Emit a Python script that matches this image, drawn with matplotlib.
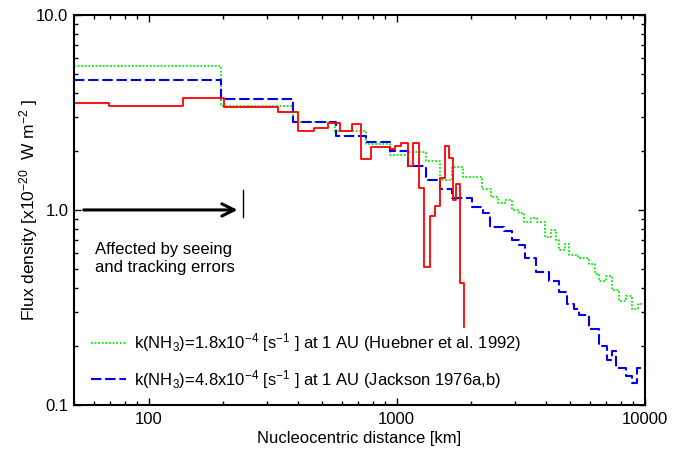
import matplotlib
matplotlib.use('Agg')
import matplotlib.pyplot as plt
from matplotlib.ticker import FixedLocator, FixedFormatter, LogLocator, NullFormatter

plt.rcParams['font.family'] = ['Liberation Sans', 'DejaVu Sans']
plt.rcParams['mathtext.fontset'] = 'custom'
plt.rcParams['mathtext.rm'] = 'Liberation Sans'
plt.rcParams['mathtext.it'] = 'Liberation Sans:italic'
plt.rcParams['mathtext.default'] = 'regular'

# step edges (km) and flux values
huebner_x = [50, 195, 381, 563, 751, 937, 1110, 1309, 1489, 1675, 1846, 2209, 2401,
             2551, 2741, 2915, 3099, 3266, 3475, 3695, 3967, 4182, 4380, 4515, 4750,
             4953, 5382, 5957, 6300, 6536, 6970, 7370, 7900, 8389, 8867, 9400, 10000]
huebner_y = [5.47, 3.43, 2.84, 2.53, 2.18, 1.91, 1.98, 1.79, 1.43, 1.66, 1.47, 1.28, 1.17,
             1.09, 1.12, 1.00, 0.96, 0.87, 0.91, 0.87, 0.73, 0.79, 0.70, 0.62, 0.67,
             0.59, 0.57, 0.53, 0.47, 0.43, 0.46, 0.39, 0.34, 0.36, 0.31, 0.33, 0.30]

jackson_x = [50, 195, 381, 567, 751, 937, 1110, 1309, 1489, 1675, 2014, 2222, 2385,
             2715, 2915, 3119, 3298, 3640, 4117, 4515, 4861, 5200, 5433, 5957, 6536,
             7035, 7400, 7645, 8389, 8867, 9300, 10000]
jackson_y = [4.64, 3.70, 2.84, 2.40, 2.22, 2.01, 1.67, 1.43, 1.28, 1.15, 1.04, 0.97, 0.82,
             0.78, 0.70, 0.66, 0.57, 0.48, 0.43, 0.38, 0.33, 0.31, 0.29, 0.245, 0.20,
             0.17, 0.19, 0.155, 0.14, 0.13, 0.155, 0.13]

obs_x = [50, 69, 137, 202, 268, 333, 399, 464, 528, 590, 658, 721, 791, 937, 982,
         1045, 1110, 1163, 1225, 1287, 1357, 1430, 1489, 1559, 1622, 1684, 1737, 1803, 1864]
obs_y = [3.52, 3.41, 3.77, 3.38, 3.36, 3.17, 2.55, 2.62, 2.78, 2.55, 2.75, 1.82, 2.11, 2.06, 2.13,
         2.20, 1.67, 2.20, 1.30, 0.51, 0.93, 1.05, 1.45, 2.13, 1.84, 1.13, 1.36, 0.42, 0.25]

labels = [r'k(NH$_3$)=1.8x10$^{-4}$ [s$^{-1}$ ] at 1 AU (Huebner et al. 1992)',
          r'k(NH$_3$)=4.8x10$^{-4}$ [s$^{-1}$ ] at 1 AU (Jackson 1976a,b)']

fig = plt.figure(figsize=(6.73, 4.51), dpi=100)
ax = fig.add_axes([0.110, 0.102, 0.848, 0.865])

ax.plot(huebner_x, huebner_y, drawstyle='steps-post', color='#00ee00',
        linestyle=(0, (1, 1)), lw=1.3, label=labels[0])
ax.plot(jackson_x, jackson_y, drawstyle='steps-post', color='#0000ee',
        linestyle=(0, (5, 1.8)), lw=1.5, label=labels[1])
ax.plot(obs_x, obs_y, drawstyle='steps-post', color='#ff0000', lw=1.3)

ax.set_xscale('log')
ax.set_yscale('log')
ax.set_xlim(50, 10000)
ax.set_ylim(0.1, 10)

ax.xaxis.set_major_locator(FixedLocator([100, 1000, 10000]))
ax.xaxis.set_major_formatter(FixedFormatter(['100', '1000', '10000']))
ax.yaxis.set_major_locator(FixedLocator([0.1, 1, 10]))
ax.yaxis.set_major_formatter(FixedFormatter(['0.1', '1.0', '10.0']))
ax.xaxis.set_minor_locator(LogLocator(base=10, subs=range(2, 10)))
ax.yaxis.set_minor_locator(LogLocator(base=10, subs=range(2, 10)))
ax.xaxis.set_minor_formatter(NullFormatter())
ax.yaxis.set_minor_formatter(NullFormatter())
ax.tick_params(which='both', direction='in', top=True, right=True, labelsize=12, width=1)
ax.tick_params(which='major', length=5)
ax.tick_params(which='minor', length=3)
ax.tick_params(axis='x', which='major', pad=5)
ax.tick_params(axis='y', which='major', pad=4)
for sp in ax.spines.values():
    sp.set_linewidth(1.5)

ax.set_xlabel('Nucleocentric distance [km]', fontsize=12, labelpad=3)
ax.set_ylabel(r'Flux density [x10$^{-20}$  W m$^{-2}$ ]', fontsize=12.5)
ax.yaxis.set_label_coords(-0.059, 0.5)

# seeing / tracking marker
ax.annotate('', xy=(234, 1.0), xytext=(53.3, 1.0),
            arrowprops=dict(arrowstyle='->', lw=2.2, color='black', mutation_scale=22))
ax.plot([240, 240], [0.92, 1.27], color='black', lw=1)
ax.text(61, 0.685, 'Affected by seeing\nand tracking errors', fontsize=12,
        va='top', ha='left', linespacing=1.22)

ax.legend(loc='lower left', bbox_to_anchor=(0.03, 0.037), frameon=False,
          fontsize=12, handlelength=2.1, handletextpad=0.5, labelspacing=0.8,
          borderpad=0, borderaxespad=0)

fig.savefig('out.png', dpi=100)
